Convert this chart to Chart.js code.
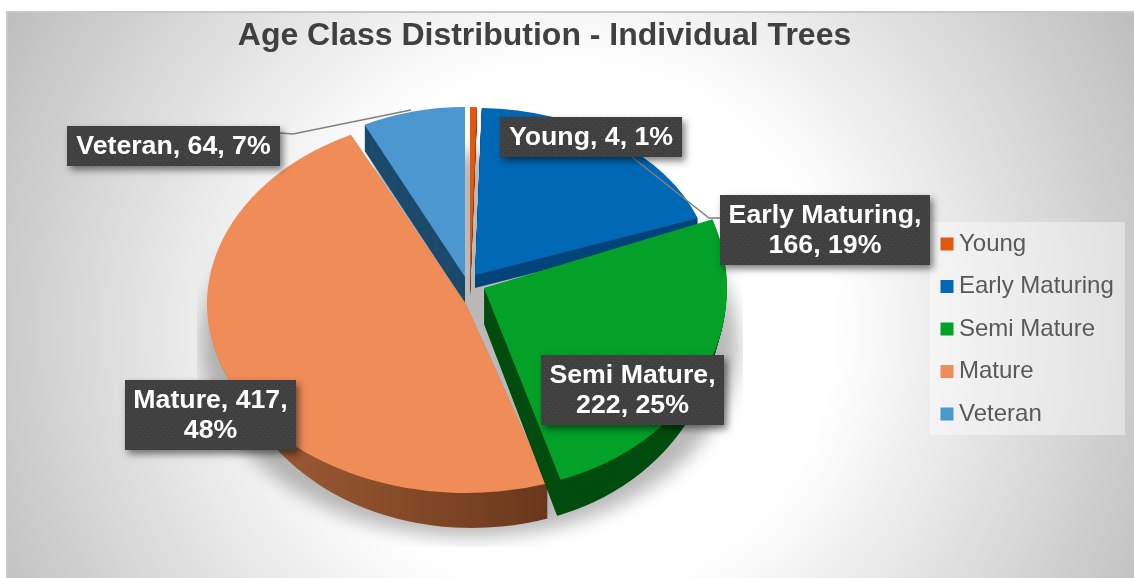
<!DOCTYPE html>
<html>
<head>
<meta charset="utf-8">
<style>html,body{margin:0;padding:0;background:#fff}canvas{display:block}</style>
<script src="https://cdn.jsdelivr.net/npm/chart.js@4/dist/chart.umd.min.js"></script>
</head>
<body>
<canvas id="c" width="1134" height="578"></canvas>
<script>
const categories = ['Young', 'Early Maturing', 'Semi Mature', 'Mature', 'Veteran'];
const values = [4, 166, 222, 417, 64];
const percents = [1, 19, 25, 48, 7];
const chartTitle = 'Age Class Distribution - Individual Trees';

const topColors = ['#E0590F', '#0068B5', '#03A128', '#F08C58', '#4C97CF'];
const FONT = '"Liberation Sans", Arial, sans-serif';

// 3D projection of each exploded slice: [x, y, radiusX, radiusY, depth, wall taper]
const projection = [
  [470, 285, 240, 178, 12, 0],
  [475, 275, 237, 167, 13, 0],
  [484, 288, 243, 202, 36, 0.3],
  [466, 304, 259, 189, 35, 0.54],
  [465, 277, 226, 170, 26, 0]
];
const wallColors = ['#8A3608', '#03457A', '#004D0F', null, '#1C4A6C'];
const drawOrder = [4, 0, 1, 3, 2];

// label boxes: left, top, right, bottom
const labelBoxes = [
  [500, 117, 682, 157],
  [720, 195, 930, 265],
  [541, 355, 724, 425],
  [125, 380, 296, 450],
  [67, 126, 280, 166]
];
const labelLines = [
  [categories[0] + ', ' + values[0] + ', ' + percents[0] + '%'],
  [categories[1] + ',', values[1] + ', ' + percents[1] + '%'],
  [categories[2] + ',', values[2] + ', ' + percents[2] + '%'],
  [categories[3] + ', ' + values[3] + ',', percents[3] + '%'],
  [categories[4] + ', ' + values[4] + ', ' + percents[4] + '%']
];
const leaders = [
  [[280, 133], [293, 134], [411, 110]],
  [[632, 157], [709, 218], [720, 218]]
];

function dotPattern(ctx) {
  const p = document.createElement('canvas');
  p.width = 6; p.height = 6;
  const g = p.getContext('2d');
  g.fillStyle = '#404040'; g.fillRect(0, 0, 6, 6);
  g.fillStyle = '#4E4E4E';
  g.fillRect(1, 1, 1, 1); g.fillRect(4, 4, 1, 1);
  return ctx.createPattern(p, 'repeat');
}

const scene = {
  id: 'scene',
  afterLayout(chart) {
    const l = chart.legend;
    l.left = 928.5; l.right = 1130; l.top = 213.5; l.bottom = 570;
    const t = chart.titleBlock;
    t.left = 0; t.right = 1089;
  },
  beforeDraw(chart) {
    const ctx = chart.ctx, W = chart.width, H = chart.height;
    ctx.save();
    ctx.fillStyle = '#fff'; ctx.fillRect(0, 0, W, H);
    // frame with radial background
    ctx.beginPath(); ctx.rect(6, 11, W - 6, H - 11); ctx.clip();
    const g = ctx.createRadialGradient(570, 330, 0, 570, 330, 660);
    g.addColorStop(0, '#ffffff'); g.addColorStop(0.4, '#ffffff');
    g.addColorStop(1, '#bbbbbb');
    ctx.fillStyle = g; ctx.fillRect(0, 0, W, H);
    ctx.fillStyle = '#c8c8c8';
    ctx.fillRect(6, 11, W, 2); ctx.fillRect(6, 11, 2, H);
    // floor shadow
    ctx.save();
    ctx.beginPath(); ctx.rect(197, 137, 546, 410); ctx.clip();
    ctx.filter = 'blur(9px)';
    ctx.fillStyle = 'rgba(60,60,60,0.36)';
    ctx.beginPath(); ctx.ellipse(470, 345, 268, 192, 0, 0, Math.PI * 2); ctx.fill();
    ctx.restore();
    // legend panel
    ctx.fillStyle = 'rgba(255,255,255,0.42)';
    ctx.fillRect(930, 222, 195, 213);
    ctx.restore();
  },
  beforeDatasetDraw(chart) {
    const ctx = chart.ctx;
    const arcs = chart.getDatasetMeta(0).data;
    drawOrder.forEach(i => {
      const a = arcs[i], [x, y, rx, ry, depth, taper] = projection[i];
      ctx.save();
      let wall = wallColors[i];
      if (!wall) {
        wall = ctx.createLinearGradient(x - rx, 0, x + rx * 0.3, 0);
        wall.addColorStop(0, '#A5613A');
        wall.addColorStop(0.5, '#8A4E2B');
        wall.addColorStop(1, '#6A381C');
      }
      ctx.fillStyle = wall;
      for (let d = depth; d >= 1; d--) {
        const wx = x + (i === 3 ? 0.316 : 0) * taper * d;
        const wr = rx - taper * d;
        ctx.beginPath();
        ctx.moveTo(wx, y + d);
        ctx.ellipse(wx, y + d, wr, ry, 0, a.startAngle, a.endAngle);
        ctx.closePath();
        ctx.fill();
      }
      ctx.translate(x, y);
      ctx.scale(rx / a.outerRadius, ry / a.outerRadius);
      ctx.translate(-a.x, -a.y);
      a.draw(ctx);
      ctx.restore();
    });
    return false;
  },
  afterDatasetsDraw(chart) {
    const ctx = chart.ctx;
    ctx.save();
    ctx.strokeStyle = '#808080'; ctx.lineWidth = 1.5;
    leaders.forEach(pts => {
      ctx.beginPath();
      pts.forEach((p, i) => i ? ctx.lineTo(p[0], p[1]) : ctx.moveTo(p[0], p[1]));
      ctx.stroke();
    });
    const pat = dotPattern(ctx);
    labelBoxes.forEach((b, i) => {
      const w = b[2] - b[0], h = b[3] - b[1];
      ctx.save();
      ctx.shadowColor = 'rgba(0,0,0,0.5)';
      ctx.shadowBlur = 7; ctx.shadowOffsetX = 3; ctx.shadowOffsetY = 4;
      ctx.fillStyle = '#404040';
      ctx.fillRect(b[0], b[1], w, h);
      ctx.restore();
      ctx.fillStyle = pat;
      ctx.fillRect(b[0], b[1], w, h);
      ctx.fillStyle = '#fff';
      ctx.font = 'bold 26.7px ' + FONT;
      ctx.textAlign = 'center';
      ctx.textBaseline = 'middle';
      const lines = labelLines[i], cy = (b[1] + b[3]) / 2 + 1, sp = 30;
      lines.forEach((t, k) => {
        ctx.fillText(t, (b[0] + b[2]) / 2, cy + (k - (lines.length - 1) / 2) * sp);
      });
    });
    ctx.restore();
  }
};

new Chart(document.getElementById('c'), {
  type: 'pie',
  data: {
    labels: categories,
    datasets: [{ data: values, backgroundColor: topColors, borderWidth: 0 }]
  },
  options: {
    responsive: false,
    animation: false,
    layout: { padding: 0 },
    plugins: {
      tooltip: { enabled: false },
      title: {
        display: true,
        text: chartTitle,
        color: '#404040',
        font: { family: FONT, size: 32, weight: 'bold', lineHeight: 1.2 },
        padding: { top: 17, bottom: 10 }
      },
      legend: {
        display: true,
        position: 'right',
        align: 'start',
        labels: {
          color: '#595959',
          font: { family: FONT, size: 24, lineHeight: 1.2 },
          usePointStyle: true,
          pointStyle: 'rect',
          boxWidth: 0.01,
          boxHeight: 13,
          padding: 18.5
        }
      }
    }
  },
  plugins: [scene]
});
</script>
</body>
</html>
